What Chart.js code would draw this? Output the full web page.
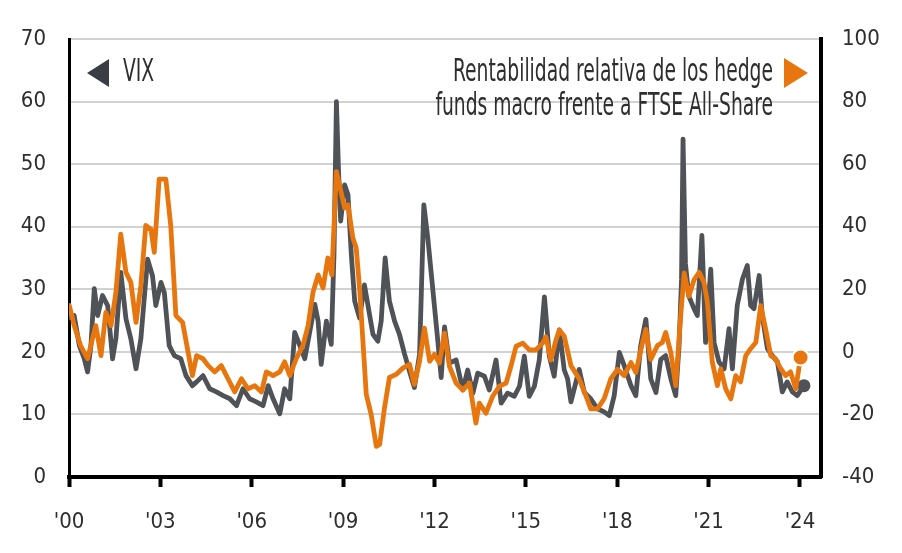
<!DOCTYPE html>
<html><head><meta charset="utf-8">
<script src="https://cdn.jsdelivr.net/npm/chart.js@4.4.1/dist/chart.umd.min.js"></script>
<style>html,body{margin:0;padding:0;background:#fff;}#wrap{width:902px;height:553px;}</style>
</head><body><div id="wrap"><canvas id="c" width="902" height="553"></canvas></div>
<script>
// ---- DATA ----
const vixDates = [2000.00,2000.17,2000.34,2000.50,2000.61,2000.72,2000.83,2000.94,2001.10,2001.27,2001.43,2001.54,2001.70,2001.87,2002.03,2002.20,2002.36,2002.47,2002.58,2002.74,2002.85,2003.02,2003.13,2003.29,2003.46,2003.67,2003.84,2004.05,2004.19,2004.40,2004.62,2004.84,2005.06,2005.28,2005.50,2005.71,2005.93,2006.15,2006.37,2006.54,2006.70,2006.92,2007.08,2007.25,2007.41,2007.58,2007.74,2007.90,2008.07,2008.18,2008.28,2008.45,2008.61,2008.70,2008.78,2008.85,2008.92,2009.05,2009.16,2009.27,2009.38,2009.54,2009.70,2009.81,2009.98,2010.14,2010.25,2010.38,2010.52,2010.69,2010.85,2011.02,2011.18,2011.34,2011.51,2011.65,2011.78,2011.94,2012.11,2012.22,2012.33,2012.49,2012.71,2012.93,2013.09,2013.26,2013.42,2013.64,2013.80,2014.02,2014.19,2014.40,2014.62,2014.79,2014.95,2015.11,2015.28,2015.44,2015.61,2015.77,2015.93,2016.10,2016.26,2016.37,2016.48,2016.75,2016.92,2017.13,2017.35,2017.57,2017.74,2017.90,2018.07,2018.23,2018.45,2018.61,2018.77,2018.94,2019.10,2019.27,2019.43,2019.59,2019.76,2019.92,2020.03,2020.11,2020.16,2020.24,2020.35,2020.52,2020.63,2020.78,2020.90,2020.99,2021.07,2021.18,2021.34,2021.51,2021.67,2021.78,2021.94,2022.11,2022.27,2022.38,2022.49,2022.66,2022.76,2022.93,2023.09,2023.26,2023.42,2023.58,2023.75,2023.91,2024.13];
const vixValues = [25.5,25.8,21.0,18.9,16.8,21.0,30.1,25.8,29.0,27.4,18.9,22.1,32.7,25.3,22.1,17.3,22.1,28.5,34.8,32.2,27.4,31.1,29.5,21.0,19.4,18.9,16.2,14.6,15.2,16.2,14.1,13.6,13.0,12.5,11.4,14.1,12.5,12.0,11.4,14.6,12.5,10.1,14.1,12.5,23.1,21.0,18.9,23.1,27.6,24.9,18.0,24.9,21.2,35.5,60.0,48.8,40.9,46.7,45.1,35.5,28.1,25.4,30.7,27.6,22.8,21.7,24.9,35.0,28.1,24.9,22.8,19.6,16.9,14.3,19.6,43.5,38.2,30.2,21.7,15.9,24.0,18.2,18.7,13.9,17.1,13.4,16.6,16.1,13.9,18.7,11.8,13.4,12.9,14.5,19.3,12.9,14.5,18.7,28.8,19.3,16.1,23.5,17.1,15.7,12.0,17.2,13.5,12.5,10.9,10.4,9.8,13.0,19.9,17.8,14.6,13.0,21.0,25.2,15.7,13.5,18.8,19.4,15.7,13.0,21.0,31.5,54.0,34.1,28.9,26.9,25.8,38.6,21.5,27.9,33.2,21.5,18.4,17.3,23.7,17.3,27.4,31.6,33.8,27.4,26.9,32.2,25.8,20.5,19.4,18.4,13.6,15.2,13.6,13.0,14.6];

const hfDates = [2000.01,2000.17,2000.38,2000.61,2000.77,2000.88,2001.05,2001.21,2001.38,2001.54,2001.70,2001.87,2002.03,2002.20,2002.36,2002.52,2002.69,2002.80,2002.96,2003.18,2003.34,2003.51,2003.73,2003.89,2004.05,2004.19,2004.40,2004.57,2004.78,2005.00,2005.22,2005.44,2005.66,2005.88,2006.10,2006.32,2006.48,2006.70,2006.92,2007.08,2007.25,2007.46,2007.68,2007.85,2008.01,2008.18,2008.34,2008.50,2008.63,2008.78,2008.88,2009.05,2009.16,2009.32,2009.43,2009.54,2009.65,2009.76,2009.92,2010.09,2010.20,2010.36,2010.52,2010.74,2010.96,2011.18,2011.34,2011.51,2011.67,2011.84,2012.00,2012.16,2012.33,2012.49,2012.71,2012.93,2013.15,2013.36,2013.47,2013.69,2013.91,2014.13,2014.35,2014.51,2014.68,2014.90,2015.11,2015.33,2015.55,2015.66,2015.82,2015.99,2016.10,2016.26,2016.48,2016.75,2016.97,2017.13,2017.35,2017.57,2017.79,2018.01,2018.23,2018.45,2018.61,2018.83,2018.94,2019.10,2019.32,2019.48,2019.59,2019.76,2019.92,2020.09,2020.20,2020.35,2020.52,2020.69,2020.85,2020.96,2021.12,2021.29,2021.40,2021.56,2021.73,2021.89,2022.05,2022.22,2022.38,2022.55,2022.71,2022.87,2023.04,2023.20,2023.37,2023.53,2023.69,2023.86,2024.02];
const hfValues = [14.8,8.4,2.0,-2.2,4.2,8.4,-1.2,12.6,8.4,19.0,37.6,25.4,22.2,9.4,21.2,40.4,39.2,31.8,55.2,55.2,40.4,11.6,9.4,1.0,-7.6,-1.2,-2.2,-4.4,-6.4,-4.4,-8.6,-12.8,-8.6,-11.8,-10.8,-12.8,-6.4,-7.6,-6.4,-3.2,-7.6,-2.2,2.0,8.4,19.0,24.6,20.4,30.0,24.6,57.6,53.4,46.0,47.0,36.4,33.2,20.4,3.4,-13.6,-20.0,-30.2,-29.6,-17.8,-8.2,-7.2,-5.2,-4.0,-10.4,-3.0,7.6,-3.0,-0.8,-3.6,6.0,-4.6,-10.0,-12.2,-10.0,-22.8,-16.4,-19.6,-14.2,-11.0,-10.0,-4.6,1.8,2.8,0.6,0.6,2.8,4.8,-2.6,3.8,7.0,5.0,-4.4,-8.6,-14.0,-18.2,-18.2,-15.0,-8.6,-5.6,-7.6,-3.4,-6.6,3.0,7.2,-2.4,2.0,3.0,6.2,-0.2,-10.8,12.4,25.2,17.8,23.0,25.4,22.2,15.8,-3.2,-10.8,-5.4,-11.8,-15.0,-7.6,-9.6,-1.2,1.0,3.0,14.8,7.4,-1.2,-2.2,-5.4,-7.6,-6.4,-11.8,-1.8];

const xTickYears = [2000,2003,2006,2009,2012,2015,2018,2021,2024];
const xTickLabels = ["'00","'03","'06","'09","'12","'15","'18","'21","'24"];
const leftTicks = [0,10,20,30,40,50,60,70];
const rightTicks = [-40,-20,0,20,40,60,80,100];
const legendLeftText = 'VIX';
const legendRightText = ['Rentabilidad relativa de los hedge','funds macro frente a FTSE All-Share'];

// ---- STYLE ----
const GRAY = '#4f5358';
const ORANGE = '#e8760f';
const TEXT = '#2e2e2e';

function hasFont(f){
  const c=document.createElement('canvas').getContext('2d');
  const s='abcdefghijklmnopqrstuvwxyzABCDEFGHIJ0123456789';
  c.font='40px monospace'; const w1=c.measureText(s).width;
  c.font='40px "'+f+'", monospace'; const w2=c.measureText(s).width;
  return Math.abs(w1-w2)>0.5;
}
const FAMILY = ['Liberation Sans Narrow','DejaVu Sans Condensed','Liberation Sans','Roboto'].find(hasFont) || 'sans-serif';
const mctx = document.createElement('canvas').getContext('2d');
mctx.font = '100px "'+FAMILY+'"';
const digitW = mctx.measureText('70').width/100;
const TICK_SIZE = Math.round(25/digitW);
const tickFont = {family: FAMILY, size: TICK_SIZE};

const legendPlugin = {
  id:'legendText',
  afterDraw(chart){
    const ctx = chart.ctx;
    ctx.save();
    ctx.fillStyle = '#3a3e44';
    ctx.beginPath(); ctx.moveTo(87,73); ctx.lineTo(109,59); ctx.lineTo(109,87); ctx.closePath(); ctx.fill();
    ctx.fillStyle = ORANGE;
    ctx.beginPath(); ctx.moveTo(808,73); ctx.lineTo(784,58); ctx.lineTo(784,88); ctx.closePath(); ctx.fill();
    ctx.font = '26px "'+FAMILY+'"';
    const sx = 320/ctx.measureText(legendRightText[0]).width;
    const sy = 1.2;
    function txt(t,x,y,align){
      ctx.save(); ctx.translate(x,y); ctx.scale(sx,sy);
      ctx.textAlign=align; ctx.textBaseline='middle'; ctx.fillStyle=TEXT;
      ctx.fillText(t,0,0); ctx.restore();
    }
    txt(legendLeftText,123,73,'left');
    txt(legendRightText[0],773,73,'right');
    txt(legendRightText[1],773,107,'right');
    ctx.restore();
  }
};

new Chart(document.getElementById('c'), {
  type:'line',
  data:{datasets:[
    {label:'Rentabilidad relativa', yAxisID:'yR', xAxisID:'x',
     data: hfDates.map((d,i)=>({x:d,y:hfValues[i]})),
     borderColor:ORANGE, borderWidth:4.8, tension:0, borderJoinStyle:'round', borderCapStyle:'round',
     pointRadius: c => c.dataIndex===hfValues.length-1 ? 8 : 0,
     pointBackgroundColor:ORANGE, pointBorderColor:'#fff', pointBorderWidth:2},
    {label:'VIX', yAxisID:'yL', xAxisID:'x',
     data: vixDates.map((d,i)=>({x:d,y:vixValues[i]})),
     borderColor:GRAY, borderWidth:4.8, tension:0, borderJoinStyle:'round', borderCapStyle:'round',
     pointRadius: c => c.dataIndex===vixValues.length-1 ? 6.5 : 0,
     pointBackgroundColor:GRAY, pointBorderColor:GRAY, pointBorderWidth:0}
  ]},
  options:{
    responsive:false, animation:false, devicePixelRatio:1,
    layout:{padding:{top:39,left:0,right:0,bottom:0}},
    plugins:{legend:{display:false}, tooltip:{enabled:false}},
    scales:{
      x:{type:'linear', min:2000, max:2024.69,
        afterBuildTicks: s => { s.ticks = xTickYears.map(v=>({value:v})); },
        ticks:{callback:(v,i)=>xTickLabels[i], font:tickFont, color:TEXT, padding:22, maxRotation:0, autoSkip:false},
        grid:{drawOnChartArea:false, drawTicks:true, tickLength:10, tickWidth:4, tickColor:'#000'},
        border:{display:true, color:'#000', width:4},
        afterFit: s => { s.height = 76; }
      },
      yL:{position:'left', min:0, max:70,
        afterBuildTicks: s => { s.ticks = leftTicks.map(v=>({value:v})); },
        ticks:{font:tickFont, color:TEXT, padding:23},
        grid:{color: c => (c.tick && c.tick.value===0) ? '#000' : '#d2d2d2', lineWidth:2, drawTicks:false},
        border:{display:true, color:'#000', width:3},
        afterFit: s => { s.width = 69; }
      },
      yR:{position:'right', min:-40, max:100,
        afterBuildTicks: s => { s.ticks = rightTicks.map(v=>({value:v})); },
        ticks:{font:tickFont, color:TEXT, padding:21},
        grid:{drawOnChartArea:false, drawTicks:false},
        border:{display:true, color:'#000', width:4},
        afterFit: s => { s.width = 81; }
      }
    }
  },
  plugins:[legendPlugin]
});
</script></body></html>
